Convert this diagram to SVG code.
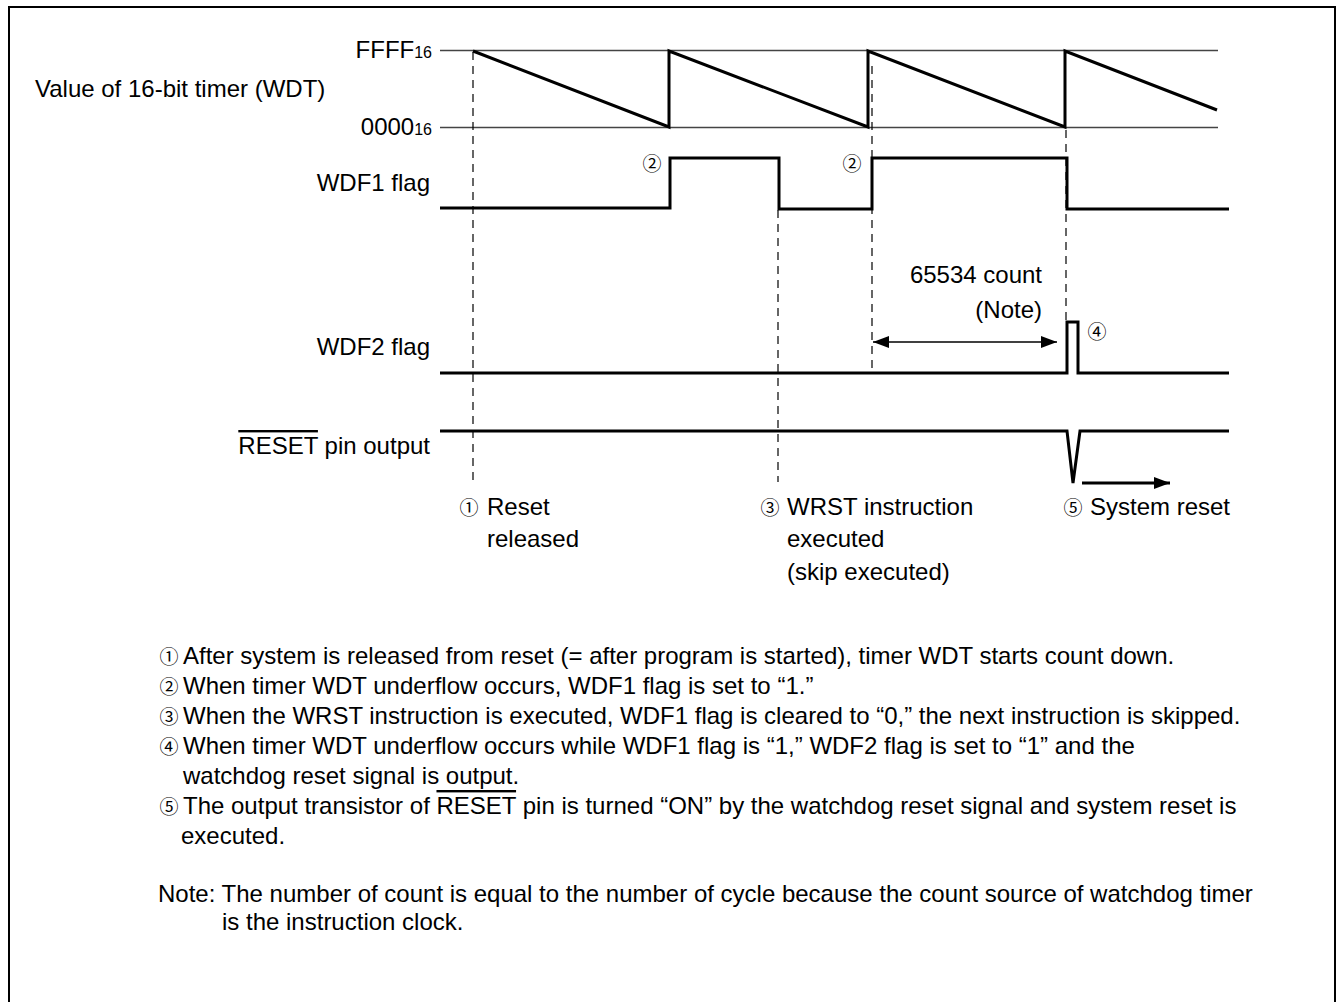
<svg xmlns="http://www.w3.org/2000/svg" width="1339" height="1002" viewBox="0 0 1339 1002">
<style>
text{font-family:"Liberation Sans",Arial,sans-serif;font-size:24px;fill:#000}
.c{font-family:"Noto Sans CJK JP","DejaVu Sans",sans-serif;font-size:19px;text-anchor:middle}
.sub{font-size:16px}
.r{text-anchor:end}
.ref{stroke:#444;stroke-width:1.3;fill:none}
.sig{stroke:#000;stroke-width:3;fill:none}
.dash{stroke:#000;stroke-width:1.2;stroke-dasharray:8 6;fill:none}
.thin{stroke:#000;stroke-width:1.3;fill:none}
.ov{text-decoration:overline}
</style>
<defs>
<marker id="ah" viewBox="0 0 16 12" refX="16" refY="6" markerWidth="16" markerHeight="12" markerUnits="userSpaceOnUse" orient="auto-start-reverse">
<path d="M0,0 L16,6 L0,12 z" fill="#000"/>
</marker>
</defs>
<rect x="9" y="7" width="1326" height="1010" fill="#fff" stroke="#000" stroke-width="2"/>

<g id="labels">
<text class="r" x="432" y="58">FFFF<tspan class="sub">16</tspan></text>
<text x="35" y="97">Value of 16-bit timer (WDT)</text>
<text class="r" x="432" y="135">0000<tspan class="sub">16</tspan></text>
<text class="r" x="430" y="191">WDF1 flag</text>
<text class="r" x="430" y="355">WDF2 flag</text>
<text class="r" x="430" y="454"><tspan class="ov">RESET</tspan> pin output</text>
</g>

<g id="timer">
<line class="ref" x1="440" y1="50.5" x2="1218" y2="50.5"/>
<line class="ref" x1="440" y1="127.5" x2="1218" y2="127.5"/>
<polyline class="sig" points="473,51 669,127 669,51 868,127 868,51 1065,127 1065,51 1217,110"/>
</g>

<g id="wdf1">
<polyline class="sig" points="440,208 670,208 670,158 779,158 779,209 872,209 872,158 1067,158 1067,209 1229,209"/>
<text class="c" x="652" y="171">②</text>
<text class="c" x="852" y="171">②</text>
</g>

<g id="wdf2">
<polyline class="sig" points="440,373 1067,373 1067,322 1078,322 1078,373 1229,373"/>
<text class="c" x="1097" y="339">④</text>
</g>

<g id="reset-pin">
<polyline class="sig" points="440,431 1067,431 1073,483 1080,431 1229,431"/>
</g>

<g id="connectors">
<line class="dash" x1="473" y1="52" x2="473" y2="482"/>
<line class="dash" x1="778" y1="210" x2="778" y2="482"/>
<line class="dash" x1="872" y1="66" x2="872" y2="373"/>
<line class="dash" x1="1066" y1="130" x2="1066" y2="322"/>
<line class="thin" x1="873" y1="342" x2="1057" y2="342" marker-start="url(#ah)" marker-end="url(#ah)"/>
<line x1="1082" y1="483" x2="1170" y2="483" stroke="#000" stroke-width="3" marker-end="url(#ah)"/>
</g>

<g id="annotations">
<text class="r" x="1042" y="283">65534 count</text>
<text class="r" x="1042" y="318">(Note)</text>
<text class="c" x="469" y="515">①</text>
<text x="487" y="515">Reset</text>
<text x="487" y="547">released</text>
<text class="c" x="770" y="515">③</text>
<text x="787" y="515">WRST instruction</text>
<text x="787" y="547">executed</text>
<text x="787" y="580">(skip executed)</text>
<text class="c" x="1073" y="515">⑤</text>
<text x="1090" y="515">System reset</text>
</g>

<g id="notes">
<text class="c" x="169" y="664">①</text>
<text x="183" y="664">After system is released from reset (= after program is started), timer WDT starts count down.</text>
<text class="c" x="169" y="694">②</text>
<text x="183" y="694">When timer WDT underflow occurs, WDF1 flag is set to “1.”</text>
<text class="c" x="169" y="724">③</text>
<text x="183" y="724">When the WRST instruction is executed, WDF1 flag is cleared to “0,” the next instruction is skipped.</text>
<text class="c" x="169" y="754">④</text>
<text x="183" y="754">When timer WDT underflow occurs while WDF1 flag is “1,” WDF2 flag is set to “1” and the</text>
<text x="183" y="784">watchdog reset signal is output.</text>
<text class="c" x="169" y="814">⑤</text>
<text x="183" y="814">The output transistor of <tspan class="ov">RESET</tspan> pin is turned “ON” by the watchdog reset signal and system reset is</text>
<text x="181" y="844">executed.</text>
<text x="158" y="902">Note: The number of count is equal to the number of cycle because the count source of watchdog timer</text>
<text x="222" y="930">is the instruction clock.</text>
</g>
</svg>
